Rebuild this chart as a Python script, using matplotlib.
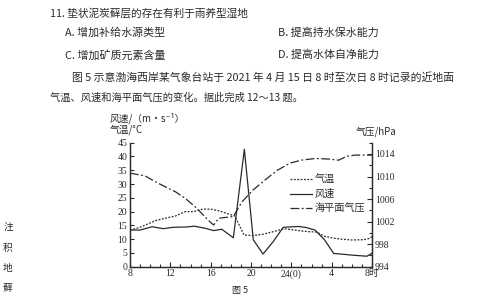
import matplotlib
matplotlib.use("Agg")
import matplotlib.pyplot as plt
import numpy as np

plt.rcParams['font.family'] = ['Liberation Serif', 'Noto Sans CJK SC', 'DejaVu Sans']

# ---- data (hours since 0:00 of 15 Apr; 24 = midnight, 32 = 8:00 next day) ----
temp_t = [8, 9, 10.5, 11.5, 12.5, 13.5, 14.3, 15.2, 16.0, 16.8, 17.8, 18.4, 19.3, 20.2, 21.2, 22.2, 23.3, 24.7, 25.7, 26.5, 27.3, 28.3, 29.2, 30.0, 31.2, 31.8, 32]
temp_v = [13.3, 14.3, 16.7, 17.6, 18.4, 20.0, 20.0, 20.9, 20.9, 20.3, 19.1, 18.4, 11.5, 11.3, 11.8, 12.7, 13.8, 13.1, 12.7, 12.6, 11.0, 10.3, 9.9, 9.7, 9.8, 10.3, 11.0]

wind_t = [8, 9, 10.2, 11.3, 12.3, 13.5, 14.4, 15.5, 16.3, 17.1, 18.25, 19.34, 20.23, 21.2, 22.2, 23.2, 24.7, 25.5, 26.35, 27.3, 28.2, 29.2, 30.0, 31.5, 32]
wind_v = [13.3, 13.3, 14.5, 13.8, 14.3, 14.4, 14.7, 13.9, 13.1, 13.6, 10.5, 42.6, 9.7, 4.6, 9.1, 14.3, 14.6, 14.2, 13.3, 9.7, 4.8, 4.5, 4.2, 3.8, 4.9]

pres_t = [8, 9.5, 10.8, 12.5, 13.5, 14.6, 15.9, 16.3, 16.8, 18.25, 19.1, 20.2, 21.4, 22.6, 23.9, 25.0, 26.35, 27.7, 28.7, 29.5, 30.3, 32]
pres_v = [1010.6, 1010.1, 1008.8, 1007.3, 1006.1, 1004.4, 1002.0, 1001.4, 1002.6, 1002.9, 1005.5, 1007.6, 1009.4, 1011.1, 1012.4, 1012.9, 1013.2, 1013.1, 1012.9, 1013.6, 1013.8, 1013.8]

xticks = [8, 12, 16, 20, 24, 28, 32]
xlabels = ['8', '12', '16', '20', '24(0)', '4', '8时']
left_ticks = [0, 5, 10, 15, 20, 25, 30, 35, 40, 45]
right_ticks = [994, 998, 1002, 1006, 1010, 1014]

ink = '#2a2a2a'
W, H = 484, 300
fig = plt.figure(figsize=(W / 100, H / 100), dpi=100)
fig.patch.set_facecolor('white')

def px(x, y):
    return x / W, 1 - y / H

cjk = ['Noto Sans CJK SC', 'DejaVu Sans']
# ---- page text ----
fig.text(*px(50, 13), '11. 垫状泥炭藓层的存在有利于雨养型湿地', fontsize=7.7, color=ink, va='center', family=cjk)
fig.text(*px(65, 33), 'A. 增加补给水源类型', fontsize=7.9, color=ink, va='center', family=cjk)
fig.text(*px(278, 33), 'B. 提高持水保水能力', fontsize=7.9, color=ink, va='center', family=cjk)
fig.text(*px(65, 55), 'C. 增加矿质元素含量', fontsize=7.9, color=ink, va='center', family=cjk)
fig.text(*px(278, 55), 'D. 提高水体自净能力', fontsize=7.9, color=ink, va='center', family=cjk)
fig.text(*px(72, 77), '图 5 示意渤海西岸某气象台站于 2021 年 4 月 15 日 8 时至次日 8 时记录的近地面',
         fontsize=7.8, color=ink, va='center', family=cjk)
fig.text(*px(50, 98), '气温、风速和海平面气压的变化。据此完成 12～13 题。', fontsize=7.4, color=ink, va='center', family=cjk)
for ch, yy in zip('注积地藓', [228, 248, 268, 288]):
    fig.text(*px(8, yy), ch, fontsize=7, color=ink, ha='center', va='center', family=cjk)
fig.text(*px(240, 290), '图 5', fontsize=6.5, color=ink, ha='center', va='center', family=cjk)

# ---- chart ----
x0, x1 = 130, 372
ytop, ybot = 142.7, 266.7
ax = fig.add_axes([x0 / W, 1 - ybot / H, (x1 - x0) / W, (ybot - ytop) / H])
ax.set_facecolor('none')
ax.set_xlim(8, 32)
ax.set_ylim(0, 45)
ax2 = ax.twinx()
ax2.set_ylim(994, 1016)

lw = 0.9
l1, = ax.plot(temp_t, temp_v, color=ink, lw=lw, ls=(0, (1.5, 1.2)), label='气温')
l2, = ax.plot(wind_t, wind_v, color=ink, lw=lw, ls='-', label='风速')
l3, = ax2.plot(pres_t, pres_v, color=ink, lw=lw, ls=(0, (7, 2, 1.5, 2)), label='海平面气压')

for a in (ax, ax2):
    a.spines['top'].set_visible(False)
    for s in a.spines.values():
        s.set_color(ink)
        s.set_linewidth(0.9)

ax.set_xticks(xticks)
ax.set_xticklabels(xlabels)
ax.set_xticks(np.arange(8, 33, 1), minor=True)
ax.set_yticks(left_ticks)
ax.tick_params(axis='both', which='both', direction='in', colors=ink, labelsize=7, pad=2)
ax.tick_params(axis='x', which='major', length=3.5, width=0.8)
ax.tick_params(axis='x', which='minor', length=2.5, width=0.8)
ax.tick_params(axis='y', which='major', length=3, width=0.8)

ax2.set_yticks(right_ticks)
ax2.set_yticks(np.arange(994, 1016.1, 2), minor=True)
ax2.tick_params(axis='y', which='both', direction='in', colors=ink, labelsize=7, pad=2, width=0.8)
ax2.tick_params(axis='y', which='major', length=3.5)
ax2.tick_params(axis='y', which='minor', length=2.5)

fig.text(*px(110, 118), '风速/（m·s⁻¹）', fontsize=7, color=ink, va='center', family=cjk)
fig.text(*px(110, 130), '气温/°C', fontsize=7, color=ink, va='center', family=cjk)
fig.text(*px(356, 132), '气压/hPa', fontsize=7, color=ink, va='center', family=cjk)

leg = ax.legend(handles=[l1, l2, l3], loc='upper left', bbox_to_anchor=((290 - x0) / (x1 - x0), (ybot - 175) / (ybot - ytop)),
                frameon=False, handlelength=2.2, handletextpad=0.2, labelspacing=0.4,
                borderaxespad=0, borderpad=0, prop={'family': cjk, 'size': 7.3})
for t in leg.get_texts():
    t.set_color(ink)

fig.savefig('out.png', dpi=100, facecolor='white')
